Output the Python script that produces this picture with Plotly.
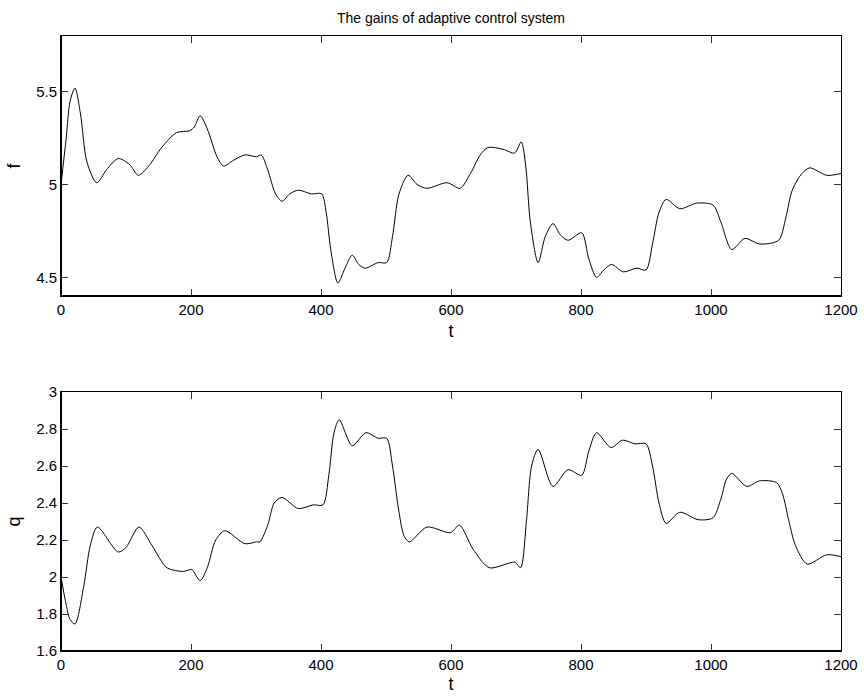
import plotly.graph_objects as go

# ---- data ----
t_f = [0, 8, 14, 21.5, 30, 40, 55, 70, 88, 105, 119, 135, 155, 178, 198, 205, 214, 225, 240, 250,
       265, 283, 301, 308, 318, 330, 340, 352, 365, 385, 401, 408, 415, 426, 437, 448, 458, 468, 488,
       501, 510, 520, 534, 548, 563, 594, 614, 630, 645, 657, 680, 698, 708, 715, 722, 734, 745, 757,
       768, 780, 801, 812, 824, 835, 847, 865, 886, 900, 910, 920, 931, 952, 978, 1003, 1015, 1032,
       1052, 1075, 1104, 1115, 1125, 1140, 1152, 1178, 1200]
f_vals = [5.0, 5.25, 5.45, 5.52, 5.38, 5.12, 5.01, 5.08, 5.14, 5.11, 5.05, 5.1, 5.2, 5.28, 5.29, 5.31,
          5.37, 5.3, 5.15, 5.10, 5.13, 5.16, 5.15, 5.16, 5.08, 4.95, 4.91, 4.95, 4.97, 4.95, 4.95, 4.85,
          4.65, 4.47, 4.55, 4.62, 4.57, 4.55, 4.58, 4.58, 4.72, 4.95, 5.05, 5.0, 4.98, 5.01, 4.98, 5.06,
          5.16, 5.20, 5.19, 5.17, 5.23, 5.1, 4.8, 4.58, 4.72, 4.79, 4.73, 4.70, 4.74, 4.6, 4.50, 4.54,
          4.57, 4.53, 4.55, 4.54, 4.68, 4.85, 4.92, 4.87, 4.90, 4.89, 4.8, 4.65, 4.71, 4.68, 4.70, 4.82,
          4.97, 5.06, 5.09, 5.05, 5.06]

t_q = [0, 8, 14, 21.5, 35, 45, 56, 88, 100, 120, 140, 163, 188, 201, 214, 225, 238, 252, 283, 301,
       306, 318, 328, 340, 365, 388, 403, 412, 420, 428, 448, 469, 488, 501, 510, 520, 528, 536, 563,
       599, 613, 634, 659, 698, 707, 716, 724, 734, 757, 780, 801, 812, 824, 846, 864, 883, 900, 910,
       920, 931, 952, 980, 1003, 1015, 1024, 1032, 1055, 1075, 1101, 1110, 1120, 1130, 1148, 1178, 1200]
q_vals = [2.0, 1.85, 1.77, 1.746, 1.95, 2.17, 2.27, 2.135, 2.16, 2.27, 2.17, 2.05, 2.03, 2.04, 1.98,
          2.05, 2.2, 2.25, 2.18, 2.19, 2.19, 2.28, 2.4, 2.43, 2.37, 2.39, 2.39, 2.55, 2.78, 2.85, 2.71,
          2.78, 2.75, 2.75, 2.6, 2.35, 2.22, 2.19, 2.27, 2.24, 2.28, 2.15, 2.05, 2.08, 2.05, 2.3, 2.6,
          2.69, 2.49, 2.58, 2.55, 2.68, 2.78, 2.70, 2.74, 2.72, 2.72, 2.6, 2.4, 2.29, 2.35, 2.31, 2.32,
          2.42, 2.53, 2.56, 2.49, 2.52, 2.51, 2.45, 2.3, 2.17, 2.07, 2.12, 2.11]

x_ticks = [0, 200, 400, 600, 800, 1000, 1200]
f_ticks = [4.5, 5, 5.5]
f_ticktext = ["4.5", "5", "5.5"]
q_ticks = [1.6, 1.8, 2.0, 2.2, 2.4, 2.6, 2.8, 3.0]
q_ticktext = ["1.6", "1.8", "2", "2.2", "2.4", "2.6", "2.8", "3"]

FONT = "Liberation Sans, Arial, Helvetica, sans-serif"

fig = go.Figure()
fig.add_trace(go.Scatter(x=t_f, y=f_vals, mode="lines", xaxis="x", yaxis="y",
                         line=dict(color="black", width=1, shape="spline", smoothing=0.8),
                         showlegend=False))
fig.add_trace(go.Scatter(x=t_q, y=q_vals, mode="lines", xaxis="x2", yaxis="y2",
                         line=dict(color="black", width=1, shape="spline", smoothing=0.8),
                         showlegend=False))

ax_common = dict(showline=True, linecolor="black", linewidth=1, mirror="allticks",
                 ticks="inside", ticklen=7, tickcolor="#333", tickwidth=1,
                 showgrid=False, zeroline=False, automargin=False,
                 tickfont=dict(family=FONT, size=15, color="black"))

fig.update_layout(
    width=864, height=698,
    margin=dict(l=61, r=23, t=36, b=47),
    paper_bgcolor="white", plot_bgcolor="white",
    font=dict(family=FONT, size=15, color="black"),
    xaxis=dict(domain=[0, 1], range=[0, 1200], tickvals=x_ticks, anchor="y",
               title=dict(text="t", standoff=7), **ax_common),
    yaxis=dict(domain=[0.5772, 1], range=[4.4, 5.8], tickvals=f_ticks, ticktext=f_ticktext,
               anchor="x", title=dict(text="f", standoff=10), **ax_common),
    xaxis2=dict(domain=[0, 1], range=[0, 1200], tickvals=x_ticks, anchor="y2",
                title=dict(text="t", standoff=5), **ax_common),
    yaxis2=dict(domain=[0, 0.4211], range=[1.6, 3.0], tickvals=q_ticks, ticktext=q_ticktext,
                anchor="x2", title=dict(text="q", standoff=10), **ax_common),
    annotations=[dict(text="The gains of adaptive control system", xref="paper", yref="paper",
                      x=0.5, y=1, yshift=8, xanchor="center", yanchor="bottom", showarrow=False,
                      font=dict(family=FONT, size=14, color="black"))],
)

# thicker left / bottom frame lines like the reference
for xr, yr in (("x", "y"), ("x2", "y2")):
    fig.add_shape(type="line", xref=f"{xr} domain", yref=f"{yr} domain", x0=0, x1=0, y0=0, y1=1,
                  line=dict(color="black", width=2))
    fig.add_shape(type="line", xref=f"{xr} domain", yref=f"{yr} domain", x0=0, x1=1, y0=0, y1=0,
                  line=dict(color="black", width=2))

fig.write_html("out.html")
